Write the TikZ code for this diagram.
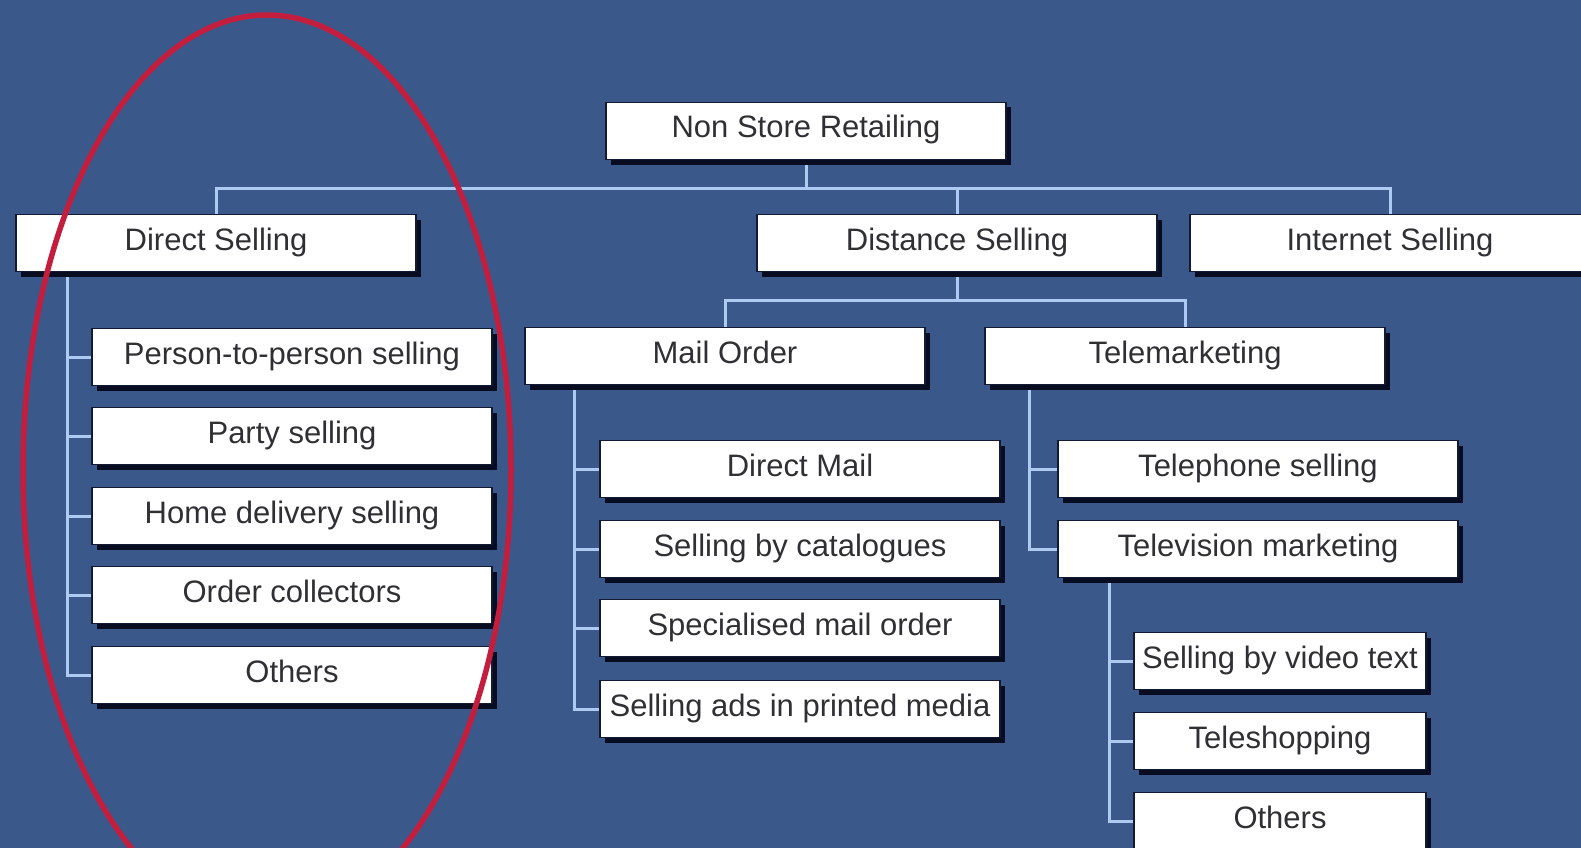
\documentclass[tikz,border=0pt]{standalone}
\usepackage{fontspec}
\setmainfont{Liberation Sans}
\usetikzlibrary{shadows}
\definecolor{bgblue}{RGB}{58,89,138}
\definecolor{linec}{RGB}{172,202,242}
\definecolor{shad}{RGB}{8,12,32}
\definecolor{bordc}{RGB}{20,26,52}
\definecolor{txtc}{RGB}{48,48,52}
\definecolor{ringc}{RGB}{196,30,62}
\pgfdeclarelayer{bg}
\pgfdeclarelayer{lines}
\pgfsetlayers{bg,lines,main}
\tikzset{
  box/.style={draw=bordc, line width=1.5pt, fill=white, minimum width=400pt, minimum height=57pt,
    inner sep=0pt, text height=22pt, text depth=8pt, text=txtc, font=\fontsize{31}{36}\selectfont,
    drop shadow={shadow xshift=5pt, shadow yshift=-5pt, fill=shad, opacity=1}},
  smallbox/.style={box, minimum width=292pt},
  conn/.style={draw=linec, line width=3pt},
  ring/.style={draw=ringc, line width=5.5pt}
}
\begin{document}
\begin{tikzpicture}[x=1pt,y=-1pt]
\useasboundingbox (0,0) rectangle (1581,848);
\clip (0,0) rectangle (1581,848);
\begin{pgfonlayer}{bg}
\fill[bgblue] (0,0) rectangle (1581,848);
\end{pgfonlayer}

% top levels
\node[box] (nsr) at (806,131) {Non Store Retailing};
\node[box] (ds) at (216,243) {Direct Selling};
\node[box] (dist) at (957,243) {Distance Selling};
\node[box] (inet) at (1390,243) {Internet Selling};
\node[box] (mo) at (725,356) {Mail Order};
\node[box] (tm) at (1185,356) {Telemarketing};

% direct selling children
\node[box] (d1) at (292,357) {Person-to-person selling};
\node[box] (d2) at (292,436) {Party selling};
\node[box] (d3) at (292,516) {Home delivery selling};
\node[box] (d4) at (292,595) {Order collectors};
\node[box] (d5) at (292,675) {Others};

% mail order children
\node[box] (m1) at (800,469) {Direct Mail};
\node[box] (m2) at (800,549) {Selling by catalogues};
\node[box] (m3) at (800,628) {Specialised mail order};
\node[box] (m4) at (800,709) {Selling ads in printed media};

% telemarketing children
\node[box] (t1) at (1258,469) {Telephone selling};
\node[box] (t2) at (1258,549) {Television marketing};

% television marketing children
\node[smallbox] (v1) at (1280,661) {Selling by video text};
\node[smallbox] (v2) at (1280,741) {Teleshopping};
\node[smallbox] (v3) at (1280,821) {Others};

\coordinate (b1) at (807,188);
\coordinate (b2) at (957,300);

\begin{pgfonlayer}{lines}
\draw[conn] (nsr.south) -- (nsr.south |- b1);
\draw[conn] (ds.north) -- (ds.north |- b1) -- (inet.north |- b1) -- (inet.north);
\draw[conn] (dist.north) -- (dist.north |- b1);
\draw[conn] (dist.south) -- (dist.south |- b2);
\draw[conn] (mo.north) -- (mo.north |- b2) -- (tm.north |- b2) -- (tm.north);
\foreach \n in {d1,d2,d3,d4,d5}
  \draw[conn] ([xshift=52pt]ds.south west) |- (\n.west);
\foreach \n in {m1,m2,m3,m4}
  \draw[conn] ([xshift=50pt]mo.south west) |- (\n.west);
\foreach \n in {t1,t2}
  \draw[conn] ([xshift=45pt]tm.south west) |- (\n.west);
\foreach \n in {v1,v2,v3}
  \draw[conn] ([xshift=52pt]t2.south west) |- (\n.west);
\end{pgfonlayer}

% red ring
\draw[ring] (267,470) ellipse [x radius=244, y radius=455];
\end{tikzpicture}
\end{document}
